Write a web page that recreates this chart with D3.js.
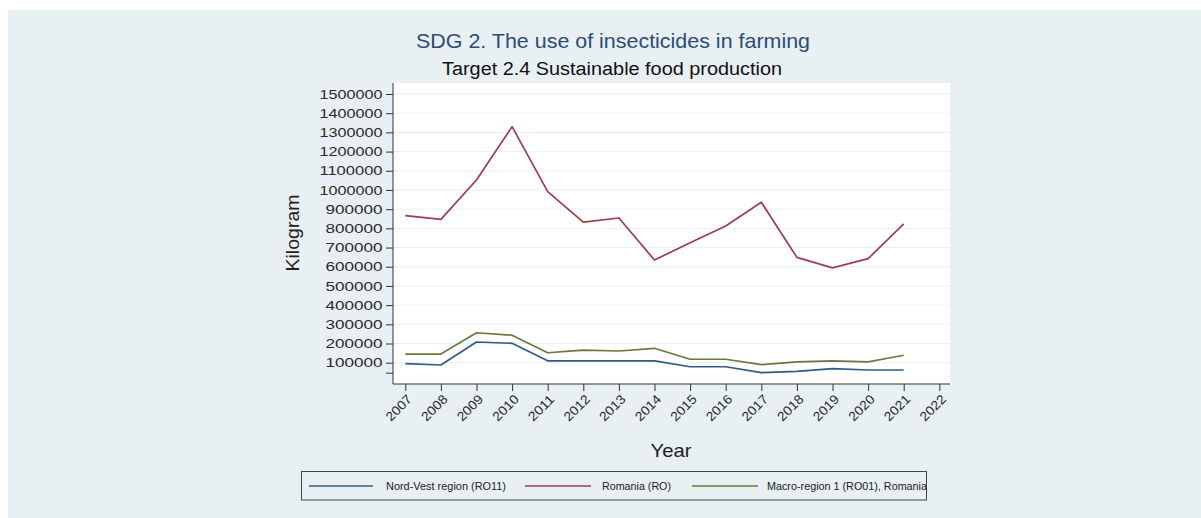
<!DOCTYPE html>
<html><head><meta charset="utf-8">
<script src="https://cdn.jsdelivr.net/npm/d3@7/dist/d3.min.js"></script>
<style>html,body{margin:0;padding:0;background:#fff;}svg{display:block;font-family:"Liberation Sans",Arial,sans-serif;}</style>
</head><body><svg id="c" width="1201" height="518"></svg>
<script>
const years = [2007,2008,2009,2010,2011,2012,2013,2014,2015,2016,2017,2018,2019,2020,2021];
const nordVest = [95000,88000,208000,201000,110000,110000,110000,110000,79000,79000,48000,55000,69000,62000,62000];
const romania = [866000,847000,1052000,1330000,991000,832000,854000,635000,725000,812000,936000,649000,594000,642000,823000];
const macro1 = [145000,145000,256000,243000,152000,166000,161000,175000,118000,118000,90000,104000,110000,104000,139000];
const seriesNames = ["Nord-Vest region (RO11)","Romania (RO)","Macro-region 1 (RO01), Romania"];
const xTicks = [2007,2008,2009,2010,2011,2012,2013,2014,2015,2016,2017,2018,2019,2020,2021,2022];
const yTicks = [100000,200000,300000,400000,500000,600000,700000,800000,900000,1000000,1100000,1200000,1300000,1400000,1500000];
const yExtraTick = [48000];
const colors = ["#2d5b8a","#9a3f47","#627d3b"];

const svg = d3.select("#c");
svg.append("rect").attr("x",8).attr("y",10).attr("width",1193).attr("height",508).attr("fill","#e8f0f3");

const L=393,R=950,T=83,B=384;
const x = d3.scaleLinear().domain([2006.655,2022.3]).range([L,R]);
const y = d3.scaleLinear().domain([0,1500000]).range([381.9,94]);

svg.append("rect").attr("x",L).attr("y",T).attr("width",R-L).attr("height",B-T).attr("fill","#fff");
svg.append("g").selectAll("line").data(yTicks).join("line")
  .attr("x1",L).attr("x2",R).attr("y1",d=>y(d)).attr("y2",d=>y(d))
  .attr("stroke","#e9eff2").attr("stroke-width",1);

const yAxis = d3.axisLeft(y).tickValues(yTicks.concat(yExtraTick))
  .tickFormat(d=>yTicks.includes(d)?d3.format("d")(d):"").tickSize(7).tickPadding(3.5);
const gy = svg.append("g").attr("transform",`translate(${L},0)`).call(yAxis);
gy.select(".domain").attr("d",`M0,${T}V${B}`).attr("stroke","#333");
gy.selectAll(".tick line").attr("stroke","#333");
gy.selectAll("text").attr("font-size",13).attr("fill","#2a2a2a").attr("font-family","Liberation Sans, Arial, sans-serif")
  .each(function(){const t=this.textContent; if(t) d3.select(this).attr("textLength",t.length===7?63:57).attr("lengthAdjust","spacingAndGlyphs");});

const xAxis = d3.axisBottom(x).tickValues(xTicks).tickFormat(d3.format("d")).tickSize(7).tickPadding(3);
const gx = svg.append("g").attr("transform",`translate(0,${B})`).call(xAxis);
gx.select(".domain").attr("d",`M${L},0H${R}`).attr("stroke","#333");
gx.selectAll(".tick line").attr("stroke","#333");
gx.selectAll("text").attr("font-size",13).attr("fill","#2a2a2a").attr("font-family","Liberation Sans, Arial, sans-serif")
  .attr("text-anchor","end").attr("dy","0").attr("transform","translate(0,9) rotate(-45)")
  .attr("textLength",31).attr("lengthAdjust","spacingAndGlyphs");

const line = d3.line().x((d,i)=>x(years[i])).y(d=>y(d));
[nordVest,romania,macro1].forEach((s,i)=>{
  svg.append("path").attr("d",line(s)).attr("fill","none").attr("stroke",colors[i]).attr("stroke-width",1.7).attr("stroke-linejoin","round");
});

function fit(sel,w){sel.attr("textLength",w).attr("lengthAdjust","spacingAndGlyphs");return sel;}
fit(svg.append("text").attr("x",613).attr("y",48).attr("text-anchor","middle").attr("font-size",21).attr("fill","#2c4b78").text("SDG 2. The use of insecticides in farming"),394);
fit(svg.append("text").attr("x",612).attr("y",75).attr("text-anchor","middle").attr("font-size",18).attr("fill","#111").text("Target 2.4 Sustainable food production"),340);
fit(svg.append("text").attr("transform","translate(299,233) rotate(-90)").attr("text-anchor","middle").attr("font-size",19).attr("fill","#222").text("Kilogram"),77);
fit(svg.append("text").attr("x",671).attr("y",457).attr("text-anchor","middle").attr("font-size",19).attr("fill","#222").text("Year"),41);

svg.append("rect").attr("x",301.5).attr("y",471.5).attr("width",625).attr("height",28.5).attr("fill","#e8f0f3").attr("stroke","#444").attr("stroke-width",1);
const legX = [[309,373,386,120],[525,591,602,69],[692,758,767,160]];
seriesNames.forEach((n,i)=>{
  svg.append("line").attr("x1",legX[i][0]).attr("x2",legX[i][1]).attr("y1",486).attr("y2",486).attr("stroke",colors[i]).attr("stroke-width",1.6);
  fit(svg.append("text").attr("x",legX[i][2]).attr("y",490).attr("font-size",11).attr("fill","#222").text(n),legX[i][3]);
});
</script></body></html>
